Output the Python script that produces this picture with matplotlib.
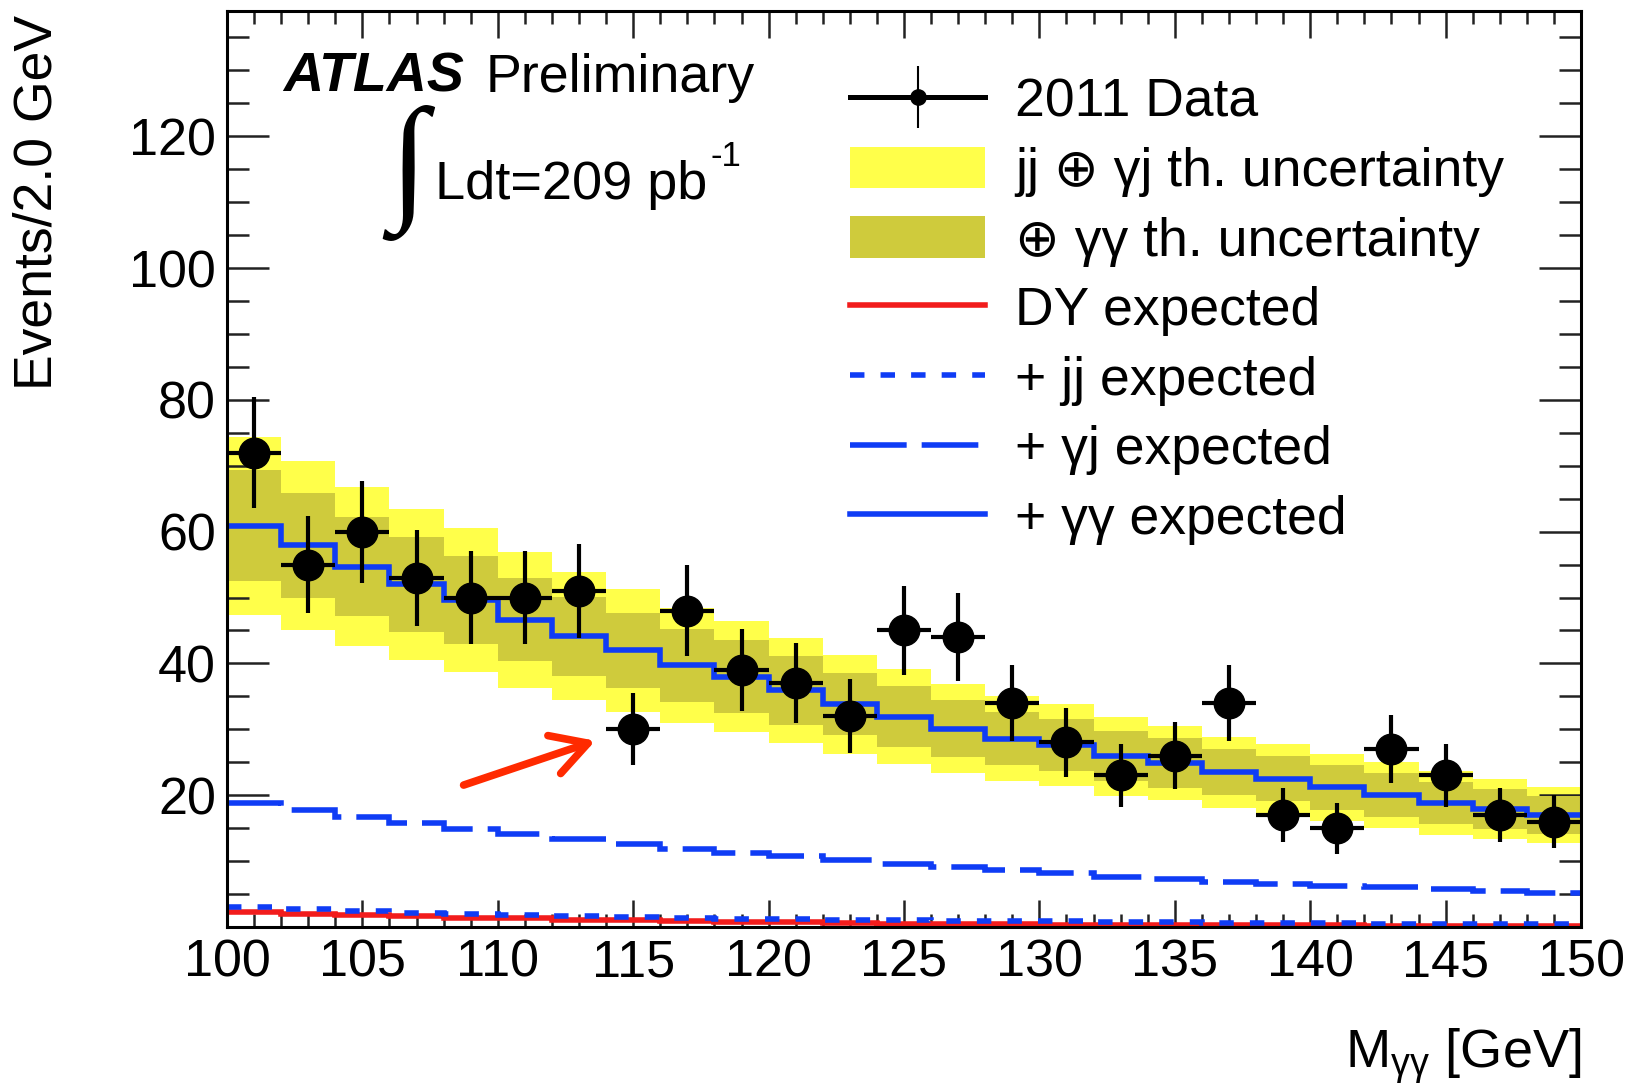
import matplotlib
matplotlib.use('Agg')
import matplotlib.pyplot as plt
import numpy as np
from matplotlib.lines import Line2D
from matplotlib.patches import Patch
from matplotlib.ticker import MultipleLocator, FixedLocator

plt.rcParams['font.family'] = ['Liberation Sans', 'DejaVu Sans']
plt.rcParams['mathtext.fontset'] = 'custom'
plt.rcParams['mathtext.rm'] = 'Liberation Sans'
plt.rcParams['mathtext.it'] = 'Liberation Sans:italic'
plt.rcParams['mathtext.bf'] = 'Liberation Sans:bold'

# ---------------- data ----------------
bin_edges = list(range(100, 152, 2))
bin_centers = list(range(101, 151, 2))
data_counts = [72, 55, 60, 53, 50, 50, 51, 30, 48, 39, 37, 32, 45, 44, 34,
               28, 23, 26, 34, 17, 15, 27, 23, 17, 16]
# cumulative expectations (stacked): DY, +jj, +gj, +gg
dy_exp = [2.3, 2.0, 1.8, 1.6, 1.4, 1.3, 1.1, 1.0, 0.85, 0.75, 0.7, 0.55, 0.5,
          0.45, 0.4, 0.35, 0.35, 0.3, 0.3, 0.25, 0.25, 0.2, 0.2, 0.2, 0.15]
jj_exp = [3.1, 2.7, 2.5, 2.2, 1.9, 1.8, 1.6, 1.5, 1.3, 1.25, 1.2, 1.1, 1.0,
          0.95, 0.9, 0.85, 0.8, 0.7, 0.65, 0.6, 0.55, 0.5, 0.45, 0.45, 0.4]
gj_exp = [18.8, 17.7, 16.7, 15.8, 14.9, 14.1, 13.3, 12.6, 11.9, 11.3, 10.8,
          10.2, 9.6, 9.15, 8.65, 8.15, 7.6, 7.3, 6.9, 6.5, 6.2, 6.0, 5.7, 5.4, 5.1]
gg_exp = [60.9, 57.9, 54.7, 52.0, 49.6, 46.6, 44.1, 42.0, 39.7, 38.0, 35.9,
          33.8, 31.9, 30.1, 28.6, 27.6, 25.9, 24.9, 23.5, 22.5, 21.2, 20.0,
          18.8, 17.9, 17.0]
# theory uncertainties (half widths)
unc_jj_gj = [13.5, 12.8, 12.0, 11.5, 10.9, 10.3, 9.7, 9.3, 8.7, 8.4, 8.0, 7.5,
             7.2, 6.8, 6.5, 6.2, 6.0, 5.6, 5.4, 5.2, 5.1, 5.0, 4.8, 4.6, 4.2]
unc_gg = [8.4, 8.0, 7.5, 7.2, 6.7, 6.3, 6.0, 5.7, 5.5, 5.5, 5.2, 4.7, 4.6,
          4.3, 4.0, 3.9, 3.8, 3.8, 3.5, 3.4, 3.4, 3.3, 3.2, 3.1, 2.9]

x_ticks = [100, 105, 110, 115, 120, 125, 130, 135, 140, 145, 150]
y_ticks = [20, 40, 60, 80, 100, 120]

legend_labels = ['2011 Data', 'jj \u2295 \u03b3j th. uncertainty',
                 '\u2295 \u03b3\u03b3 th. uncertainty', 'DY expected',
                 '+ jj expected', '+ \u03b3j expected', '+ \u03b3\u03b3 expected']

# ---------------- styles ----------------
YELLOW = '#ffff4a'
OLIVE = '#cfcb3c'
BLUE = '#0f3cf5'
RED = '#f21c1c'
FS_TICK = 37.5
FS_LEG = 38.5

fig = plt.figure(figsize=(16.42, 10.85), dpi=100)
ax = fig.add_axes([227/1642, 1-927/1085, (1581-227)/1642, (927-11)/1085])

tot = np.array(gg_exp)
uo = np.array(unc_jj_gj)
ui = np.array(unc_gg)
ax.stairs(tot + uo, bin_edges, baseline=tot - uo, fill=True, color=YELLOW, lw=0, zorder=1)
ax.stairs(tot + ui, bin_edges, baseline=tot - ui, fill=True, color=OLIVE, lw=0, zorder=2)

lw = 4.0
ax.stairs(dy_exp, bin_edges, baseline=None, color=RED, lw=lw, zorder=3)
ax.stairs(jj_exp, bin_edges, baseline=None, color=BLUE, lw=lw,
          linestyle=(0, (2.6, 2.9)), zorder=4)
ax.stairs(gj_exp, bin_edges, baseline=None, color=BLUE, lw=lw,
          linestyle=(0, (10.2, 2.7)), zorder=4)
ax.stairs(gg_exp, bin_edges, baseline=None, color=BLUE, lw=lw, zorder=5)

dc = np.array(data_counts, dtype=float)
ax.errorbar(bin_centers, dc, yerr=np.sqrt(dc), xerr=1.0, fmt='o', color='k',
            ms=22, elinewidth=3.0, capsize=0, zorder=10)

# arrow annotation
ax.annotate('', xy=(113.70, 28.4), xytext=(108.64, 21.4),
            arrowprops=dict(arrowstyle='->, head_length=0.8, head_width=0.45',
                            color='#ff2a00', lw=5.5, mutation_scale=32),
            zorder=12)

ax.set_xlim(100, 150)
ax.set_ylim(0, 139)
ax.xaxis.set_major_locator(FixedLocator(x_ticks))
ax.xaxis.set_minor_locator(MultipleLocator(1))
ax.yaxis.set_major_locator(FixedLocator(y_ticks))
ax.yaxis.set_minor_locator(MultipleLocator(5))
ax.tick_params(which='both', direction='in', top=True, right=True, width=1.8,
               labelsize=FS_TICK, color='#222222')
ax.tick_params(axis='x', which='major', length=19.5, pad=8)
ax.tick_params(axis='x', which='minor', length=9.5)
ax.tick_params(axis='y', which='major', length=30, pad=8)
ax.tick_params(axis='y', which='minor', length=16)
for s in ax.spines.values():
    s.set_linewidth(2.2)
    s.set_zorder(20)

fig.text(38/1642, 1-15/1085, 'Events/2.0 GeV', rotation=90, ha='center',
         va='top', fontsize=38.5)
fig.text(1581/1642, 1-1068/1085, 'M$_{\\mathrm{\u03b3\u03b3}}$ [GeV]', ha='right',
         va='baseline', fontsize=39)

# ATLAS label
ax.text(283/1642, 1-92/1085, 'ATLAS', transform=fig.transFigure, fontsize=40,
        fontweight='bold', fontstyle='italic', va='baseline', ha='left')
ax.text(486/1642, 1-92/1085, 'Preliminary', transform=fig.transFigure,
        fontsize=38.8, va='baseline', ha='left')
ax.text(408/1642, 1-173/1085, '\u222b', transform=fig.transFigure, fontsize=100,
        family='Liberation Serif', va='center', ha='center')
ax.text(435/1642, 1-199/1085, 'Ldt=209 pb', transform=fig.transFigure,
        fontsize=39, va='baseline', ha='left')
ax.text(710/1642, 1-166/1085, '-1', transform=fig.transFigure,
        fontsize=25, va='baseline', ha='left')

# legend
h_data = (Line2D([], [], color='k', lw=3.6),
          Line2D([], [], color='k', marker='o', ms=11, linestyle='none'),
          Line2D([], [], color='k', marker='|', ms=45, mew=1.5, linestyle='none'))
h_y = Patch(facecolor=YELLOW, edgecolor='none')
h_o = Patch(facecolor=OLIVE, edgecolor='none')
h_dy = Line2D([], [], color=RED, lw=lw)
h_jj = Line2D([], [], color=BLUE, lw=lw, linestyle=(0, (2.6, 2.9)))
h_gj = Line2D([], [], color=BLUE, lw=lw, linestyle=(0, (10.2, 2.7)))
h_gg = Line2D([], [], color=BLUE, lw=lw)
leg = ax.legend([h_data, h_y, h_o, h_dy, h_jj, h_gj, h_gg], legend_labels,
                loc='upper left', bbox_to_anchor=((850-227)/1354, 0.928),
                frameon=False, fontsize=FS_LEG, handlelength=2.53, handleheight=0.82,
                handletextpad=0.56, labelspacing=0.36, borderpad=0,
                borderaxespad=0)
leg.set_zorder(15)

fig.savefig('out.png', dpi=100)
